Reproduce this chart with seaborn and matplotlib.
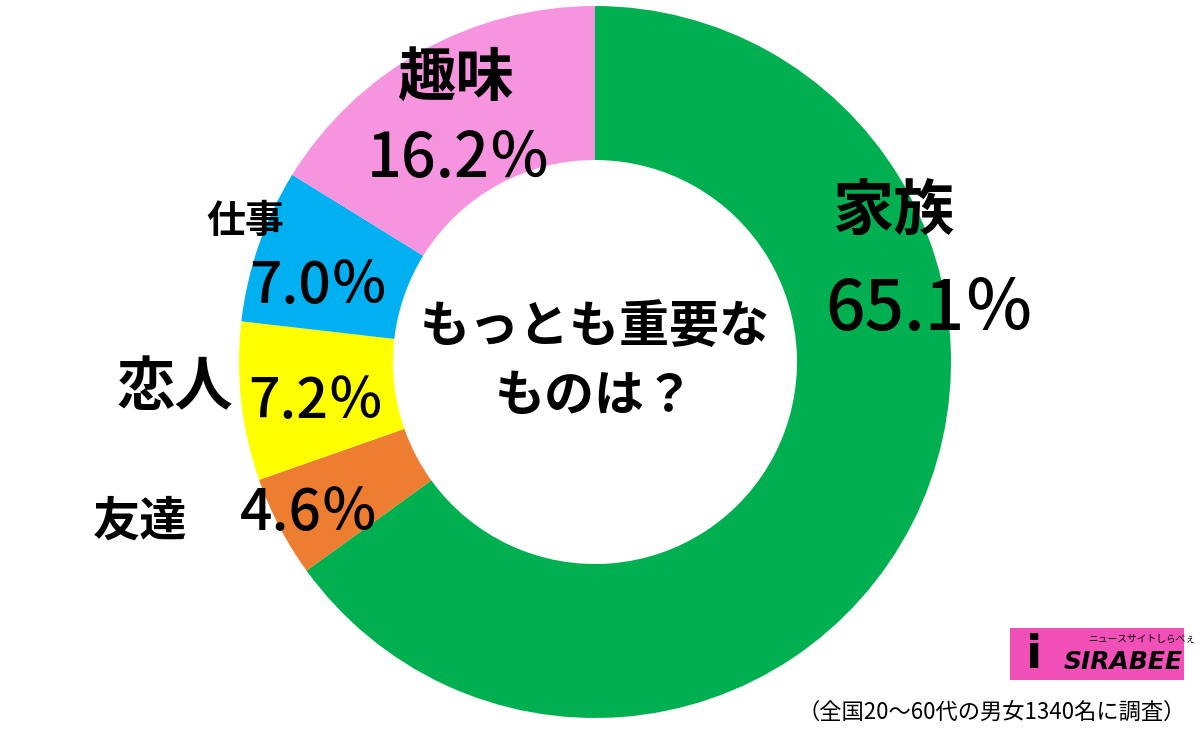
import matplotlib
matplotlib.use("Agg")
import matplotlib.pyplot as plt
import seaborn as sns
from matplotlib.patches import Rectangle

categories = ["家族", "友達", "恋人", "仕事", "趣味"]
values = [65.1, 4.6, 7.2, 7.0, 16.2]
pct_labels = ["65.1％", "4.6％", "7.2％", "7.0％", "16.2％"]
colors = ["#00B050", "#ED7D31", "#FFFF00", "#00B0F0", "#F794E0"]
center_title = "もっとも重要な\nものは？"
footnote = "（全国20～60代の男女1340名に調査）"

sns.set_theme(style="white")
plt.rcParams['font.family'] = ['Noto Sans CJK JP', 'DejaVu Sans']

W, H = 1200, 744
fig = plt.figure(figsize=(12, 7.44), dpi=100)
ax = fig.add_axes([0, 0, 1, 1])

cx, cy = 595, H - 362
R, r = 356, 202
ax.pie(values, colors=colors, startangle=90, counterclock=False,
       center=(cx, cy), radius=R,
       wedgeprops=dict(width=R - r, linewidth=0))
ax.set_xlim(0, W)
ax.set_ylim(0, H)
ax.set_aspect('equal')
ax.axis('off')

def t(x, y, s, size, weight='normal', ha='center', **kw):
    ax.text(x, H - y, s, fontsize=size, fontweight=weight, ha=ha, va='center',
            color='black', **kw)

# category labels
t(893, 212, categories[0], 44, 'bold')
t(930, 310, pct_labels[0], 50, 'medium')
t(140, 522, categories[1], 34, 'bold')
t(309, 514, pct_labels[1], 41, 'medium')
t(175, 388, categories[2], 42, 'bold')
t(316, 402, pct_labels[2], 40, 'medium')
t(245, 222, categories[3], 28, 'bold')
t(319, 287, pct_labels[3], 41, 'medium')
t(455, 80, categories[4], 42, 'bold')
t(459, 160, pct_labels[4], 44, 'medium')

# center title
t(595, 362, center_title, 36, 'bold', linespacing=1.45)

# footnote
t(1186, 712, footnote, 16, ha='right')

# logo
ax.add_patch(Rectangle((1010, H - 680), 174, 52, facecolor='#F050B8', edgecolor='none'))
ax.text(1064, H - 662, "SIRABEE", fontsize=18, fontweight='heavy', style='italic',
        family='DejaVu Sans', color='black', ha='left', va='center')
ax.text(1088, H - 639, "ニュースサイトしらべぇ", fontsize=7, color='black', ha='left', va='center')
ax.text(1034, H - 655, "i", fontsize=34, fontweight='black', family='DejaVu Sans',
        color='black', ha='center', va='center')

fig.savefig("out.png", dpi=100, facecolor='white')
